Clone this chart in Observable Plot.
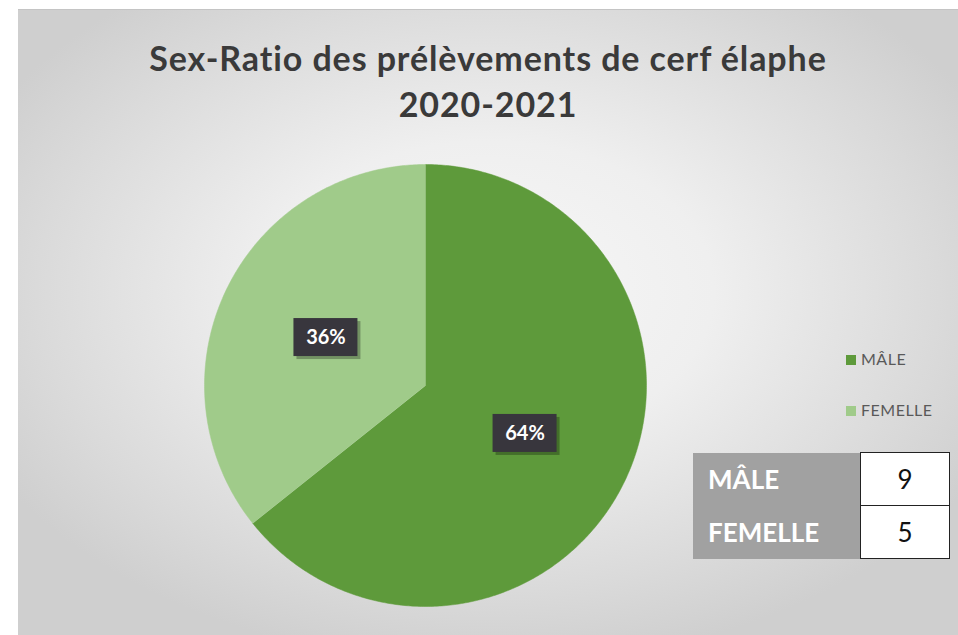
<!DOCTYPE html>
<html>
<head>
<meta charset="utf-8">
<script src="https://cdn.jsdelivr.net/npm/d3@7"></script>
<script src="https://cdn.jsdelivr.net/npm/@observablehq/plot@0.6"></script>
<style>
  html, body { margin: 0; padding: 0; background: #ffffff; }
  #wrap { position: relative; width: 958px; height: 635px; overflow: hidden; font-family: Lato, "Open Sans", sans-serif; }
  #panel { position: absolute; left: 18px; top: 9px; right: 0; bottom: 0;
    background: radial-gradient(ellipse 60% 60% at 50% 45%, #f7f7f7 0%, #efefef 40%, #dadada 80%, #cfcfcf 100%);
    border-top: 1px solid #c4c4c4; }
  #chart { position: absolute; left: 0; top: 0; }
  #title { position: absolute; left: 18px; right: 0; top: 35px; text-align: center; color: #3a3a3a;
    font-weight: 700; font-size: 34px; letter-spacing: 0.9px; line-height: 46px; }
  .leg { position: absolute; left: 846px; font-size: 16px; color: #595959; letter-spacing: 0.5px; }
  .leg span.sw { display: inline-block; width: 10px; height: 10px; margin-right: 5px; vertical-align: 0px; }
  #tbl { position: absolute; left: 693px; top: 452px; border-collapse: collapse; }
  #tbl td { height: 52px; padding: 0; font-size: 26px; }
  #tbl td.lab { background: #a1a1a1; color: #ffffff; font-weight: 700; width: 152px; padding-left: 15px; }
  #tbl td.val { background: #ffffff; color: #111; width: 88px; text-align: center; border: 1.5px solid #222; }
</style>
</head>
<body>
<div id="wrap">
  <div id="panel"></div>
  <div id="title"></div>
  <div id="chart"></div>
  <div id="legend"></div>
  <table id="tbl"></table>
</div>
<script>
// ---- data ----
const categories = ["MÂLE", "FEMELLE"];
const counts = [9, 5];
const colors = ["#5e9a3b", "#a0cb8a"];
const titleLines = ["Sex-Ratio des prélèvements de cerf élaphe", "2020-2021"];

// ---- geometry (pixel frame) ----
const W = 958, H = 635;
const cx = 425, cy = 385, R = 221;

const total = d3.sum(counts);
const pie = d3.pie().sort(null).value(d => d.count)(categories.map((c, i) => ({sex: c, count: counts[i]})));

const polar = (a, r) => [cx + r * Math.sin(a), cy - r * Math.cos(a)];

const slicePts = [];
for (const p of pie) {
  slicePts.push({sex: p.data.sex, x: cx, y: cy});
  const n = Math.max(2, Math.ceil((p.endAngle - p.startAngle) / 0.01));
  for (let k = 0; k <= n; k++) {
    const a = p.startAngle + (p.endAngle - p.startAngle) * k / n;
    const [x, y] = polar(a, R);
    slicePts.push({sex: p.data.sex, x, y});
  }
}

const labels = pie.map(p => {
  const a = (p.startAngle + p.endAngle) / 2;
  const [x, y] = polar(a, R * 0.5);
  return {sex: p.data.sex, x, y, text: Math.round(p.data.count / total * 100) + "%"};
});

const bw = 32, bh = 19;
const chart = Plot.plot({
  width: W, height: H,
  margin: 0,
  style: {background: "transparent", overflow: "visible"},
  x: {domain: [0, W], range: [0, W], axis: null},
  y: {domain: [0, H], range: [0, H], axis: null},
  color: {domain: categories, range: colors},
  marks: [
    Plot.line(slicePts, {x: "x", y: "y", z: "sex", fill: "sex", stroke: "sex", strokeWidth: 0.5}),
    Plot.rect(labels, {x1: d => d.x - bw + 3, x2: d => d.x + bw + 3, y1: d => d.y - bh + 3, y2: d => d.y + bh + 3, fill: "#000", fillOpacity: 0.28}),
    Plot.rect(labels, {x1: d => d.x - bw, x2: d => d.x + bw, y1: d => d.y - bh, y2: d => d.y + bh, fill: "#38363d"}),
    Plot.text(labels, {x: "x", y: "y", text: "text", fill: "#ffffff", fontSize: 20, fontWeight: 700, fontFamily: "Lato, sans-serif"})
  ]
});
document.getElementById("chart").appendChild(chart);

// title
document.getElementById("title").innerHTML = titleLines.join("<br>");

// legend
const leg = document.getElementById("legend");
categories.forEach((c, i) => {
  const d = document.createElement("div");
  d.className = "leg";
  d.style.top = (349 + i * 51) + "px";
  d.innerHTML = `<span class="sw" style="background:${colors[i]}"></span>${c}`;
  leg.appendChild(d);
});

// table
const tbl = document.getElementById("tbl");
categories.forEach((c, i) => {
  const tr = document.createElement("tr");
  tr.innerHTML = `<td class="lab">${c}</td><td class="val">${counts[i]}</td>`;
  tbl.appendChild(tr);
});
</script>
</body>
</html>
